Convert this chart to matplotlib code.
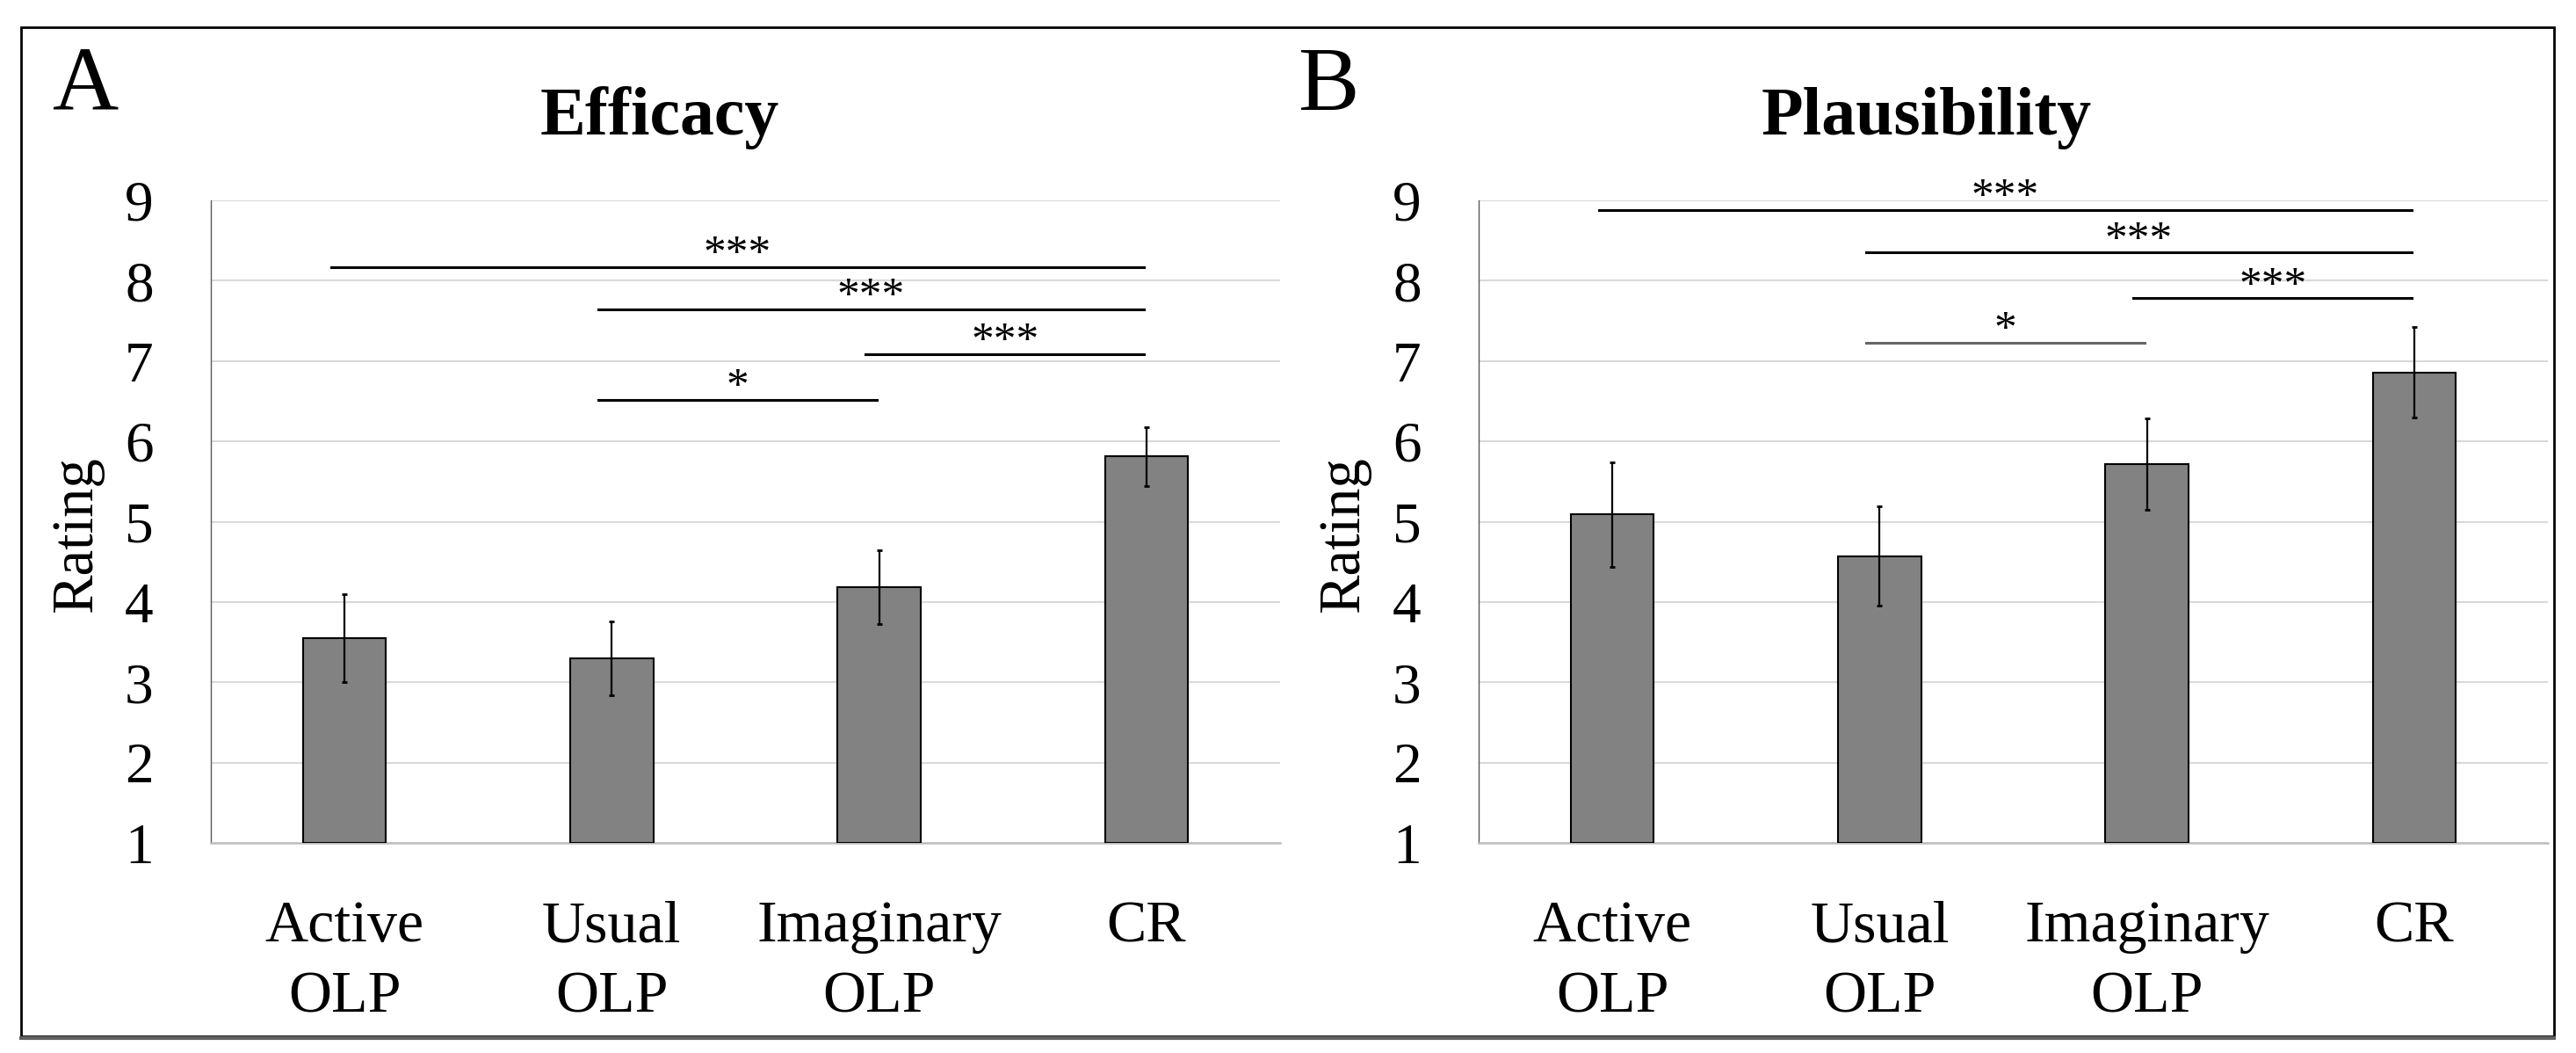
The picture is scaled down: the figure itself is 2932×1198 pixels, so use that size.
import matplotlib
matplotlib.use('Agg')
import matplotlib.pyplot as plt
from matplotlib.patches import Rectangle
from matplotlib.lines import Line2D

plt.rcParams['font.family'] = ['Liberation Serif', 'DejaVu Serif']

categories = ['Active\nOLP', 'Usual\nOLP', 'Imaginary\nOLP', 'CR']

efficacy = [3.55, 3.30, 4.18, 5.81]
efficacy_err = [0.55, 0.46, 0.46, 0.37]
plausibility = [5.09, 4.57, 5.72, 6.86]
plausibility_err = [0.65, 0.62, 0.57, 0.56]

# significance brackets: (from, to, height, label, colour)
efficacy_sig = [(0, 3, 8.17, '***', 'black'),
                (1, 3, 7.64, '***', 'black'),
                (2, 3, 7.09, '***', 'black'),
                (1, 2, 6.52, '*', 'black')]
plausibility_sig = [(0, 3, 8.88, '***', 'black'),
                    (1, 3, 8.35, '***', 'black'),
                    (2, 3, 7.78, '***', 'black'),
                    (1, 2, 7.23, '*', '#666666')]

W, H = 2932, 1198
fig = plt.figure(figsize=(W / 100, H / 100), dpi=100)


def px_axes(x0, x1, ytop, ybot):
    return fig.add_axes([x0 / W, (H - ybot) / H, (x1 - x0) / W, (ybot - ytop) / H])


def draw_panel(ax, values, errs, sig):
    x = range(len(categories))
    ax.bar(x, [v - 1 for v in values], bottom=1, width=0.31, color='#828282',
           edgecolor='black', linewidth=1.5, zorder=3)
    ax.errorbar(x, values, yerr=errs, fmt='none', ecolor='black', elinewidth=1.6,
                capsize=2, capthick=2, zorder=4)
    ax.set_xlim(-0.5, 3.5)
    ax.set_ylim(1, 9)
    ax.set_yticks(range(1, 10))
    ax.set_xticks(list(x))
    ax.set_xticklabels(categories, fontsize=49, linespacing=1.4)
    ax.tick_params(axis='y', length=0, pad=47, labelsize=47)
    ax.tick_params(axis='x', length=0, pad=47)
    ax.yaxis.grid(True, color='#d9d9d9', linewidth=1.5, zorder=0)
    ax.set_axisbelow(True)
    for s in ['top', 'right']:
        ax.spines[s].set_visible(False)
    ax.spines['left'].set_color('#595959')
    ax.spines['left'].set_linewidth(1.0)
    ax.spines['bottom'].set_color('#bfbfbf')
    ax.spines['bottom'].set_linewidth(1.8)
    for i, j, y, label, col in sig:
        ax.plot([i - 0.05, j - 0.01], [y, y], color=col, linewidth=2.2,
                clip_on=False, zorder=5)
        ax.text((i - 0.05 + j - 0.01) / 2, y + 0.02, label, ha='center',
                va='baseline', fontsize=37, clip_on=False)


ax1 = px_axes(240, 1457, 228, 959)
draw_panel(ax1, efficacy, efficacy_err, efficacy_sig)
ax2 = px_axes(1683, 2900, 228, 959)
draw_panel(ax2, plausibility, plausibility_err, plausibility_sig)

# titles, panel letters and axis labels
fig.text(751 / W, 1 - 153 / H, 'Efficacy', ha='center', va='baseline',
         fontsize=56, fontweight='bold')
fig.text(2193 / W, 1 - 153 / H, 'Plausibility', ha='center', va='baseline',
         fontsize=56, fontweight='bold')
fig.text(60 / W, 1 - 124 / H, 'A', ha='left', va='baseline', fontsize=75)
fig.text(1478 / W, 1 - 125 / H, 'B', ha='left', va='baseline', fontsize=75)
fig.text(88 / W, 1 - 608 / H, 'Rating', ha='center', va='center',
         rotation=90, fontsize=48)
fig.text(1530 / W, 1 - 608 / H, 'Rating', ha='center', va='center',
         rotation=90, fontsize=48)

# outer frame
fig.patches.append(Rectangle((24 / W, 1 - 1179 / H), (2907 - 24) / W, (1179 - 31) / H,
                             transform=fig.transFigure, fill=False,
                             edgecolor='black', linewidth=2))
fig.lines.append(Line2D([24 / W, 2907 / W], [1 - 1181 / H, 1 - 1181 / H],
                        transform=fig.transFigure, color='#606060', linewidth=3))

fig.savefig('out.png', dpi=100)
